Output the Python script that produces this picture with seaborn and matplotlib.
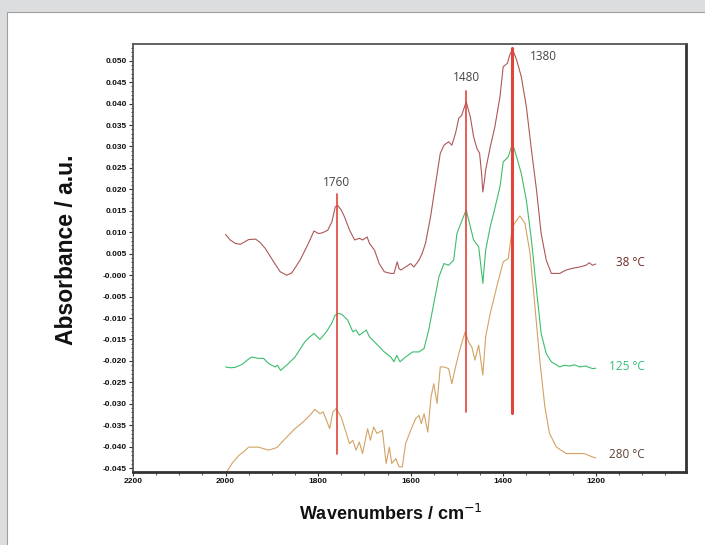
import matplotlib
matplotlib.use("Agg")
import matplotlib.pyplot as plt
from matplotlib.patches import Rectangle
from matplotlib.ticker import MultipleLocator, FixedLocator, FixedFormatter
import seaborn as sns
import numpy as np
import pandas as pd

# =====================================================
# DATA (absorbance values in units of 1e-3 a.u.)
# =====================================================
wn_38 = [2000, 1990, 1979, 1968, 1950, 1935, 1925, 1914, 1896, 1882, 1868, 1857,
         1839, 1821, 1809, 1799, 1790, 1779, 1770, 1763, 1758, 1750, 1743, 1732,
         1721, 1711, 1704, 1694, 1689, 1678, 1668, 1657, 1643, 1636, 1632, 1629,
         1625, 1621, 1611, 1600, 1593, 1582, 1575, 1568, 1557, 1546, 1536, 1528,
         1518, 1511, 1503, 1496, 1490, 1486, 1480, 1471, 1464, 1457, 1451, 1447,
         1444, 1440, 1438, 1428, 1418, 1407, 1400, 1391, 1386, 1380, 1371, 1361,
         1350, 1339, 1328, 1318, 1307, 1296, 1278, 1264, 1250, 1235, 1221, 1214,
         1207, 1200]
abs_38 = [9.5, 8.2, 7.4, 7.2, 8.3, 8.4, 7.6, 6.2, 3.1, 0.8, 0.0, 0.5,
          3.5, 7.4, 10.3, 9.7, 9.9, 10.5, 12.5, 15.9, 16.3, 15.2, 13.6, 10.5,
          8.2, 8.6, 8.2, 8.9, 7.4, 5.8, 2.7, 0.8, 0.4, 0.4, 2.0, 3.1,
          1.5, 1.2, 1.9, 2.7, 1.9, 3.5, 5.1, 7.4, 13.6, 21.4, 28.4, 30.3,
          31.1, 30.3, 33.1, 36.6, 37.2, 38.5, 40.4, 36.9, 32.3, 29.6, 28.4, 24.0,
          19.4, 22.5, 24.5, 29.9, 34.6, 41.6, 48.6, 49.4, 51.3, 52.7, 50.2, 46.3,
          39.3, 29.2, 19.8, 9.7, 3.5, 0.4, 0.4, 1.2, 1.6, 1.9, 2.3, 2.9,
          2.3, 2.6]

wn_125 = [2000, 1990, 1979, 1964, 1953, 1944, 1929, 1918, 1907, 1893, 1888, 1881,
          1868, 1850, 1829, 1818, 1809, 1796, 1782, 1771, 1763, 1755, 1748, 1736,
          1725, 1718, 1711, 1696, 1689, 1675, 1657, 1643, 1636, 1630, 1623, 1611,
          1596, 1582, 1571, 1561, 1550, 1539, 1528, 1518, 1507, 1500, 1489, 1480,
          1471, 1464, 1453, 1444, 1438, 1428, 1418, 1407, 1400, 1389, 1380, 1371,
          1361, 1350, 1339, 1328, 1318, 1307, 1296, 1278, 1268, 1257, 1246, 1235,
          1222, 1207, 1200]
abs_125 = [-21.4, -21.6, -21.5, -20.8, -19.8, -19.1, -19.4, -19.4, -20.6, -21.4, -21.0, -22.2,
           -21.0, -19.1, -15.6, -14.4, -13.6, -15.0, -13.2, -11.3, -9.3, -8.9, -9.2, -10.5,
           -13.2, -12.8, -14.0, -12.8, -14.4, -15.9, -17.9, -19.1, -20.2, -18.7, -20.2, -19.1,
           -17.9, -17.9, -17.1, -12.8, -6.6, -0.4, 2.7, 2.3, 3.5, 9.7, 12.8, 15.2,
           11.3, 8.2, 6.6, -1.9, 5.8, 11.3, 15.6, 20.6, 26.4, 27.6, 30.7, 27.6,
           23.7, 17.5, 8.2, -3.5, -13.6, -18.3, -20.2, -21.4, -21.0, -21.2, -20.9, -21.4,
           -21.2, -21.8, -21.7]

wn_280 = [2000, 1986, 1971, 1961, 1950, 1929, 1907, 1889, 1871, 1850, 1832, 1818,
          1807, 1796, 1789, 1782, 1775, 1768, 1761, 1750, 1739, 1732, 1725, 1718,
          1711, 1704, 1693, 1687, 1680, 1673, 1661, 1653, 1646, 1641, 1632, 1625,
          1618, 1611, 1600, 1589, 1582, 1577, 1571, 1563, 1556, 1550, 1543, 1536,
          1528, 1518, 1511, 1503, 1496, 1489, 1482, 1475, 1468, 1461, 1453, 1444,
          1438, 1428, 1414, 1400, 1389, 1380, 1371, 1364, 1353, 1342, 1332, 1321,
          1310, 1300, 1285, 1264, 1243, 1225, 1207, 1200]
abs_280 = [-46.3, -43.9, -42.0, -41.2, -40.1, -40.1, -40.8, -40.2, -38.1, -35.8, -34.2, -32.7,
           -31.3, -32.3, -31.9, -33.8, -35.8, -31.9, -31.1, -33.1, -36.9, -39.3, -38.5, -40.8,
           -38.9, -41.6, -35.8, -38.5, -35.4, -36.9, -36.2, -43.9, -40.1, -43.9, -42.8, -44.7,
           -44.7, -39.3, -36.2, -33.4, -32.7, -34.6, -32.3, -36.6, -28.4, -25.3, -29.9, -21.4,
           -21.4, -21.8, -25.3, -21.4, -18.3, -15.6, -13.2, -15.6, -16.7, -19.8, -16.3, -23.3,
           -14.4, -8.9, -2.7, 3.1, 3.9, 11.3, 12.8, 13.8, 12.1, 5.1, -6.6, -19.8,
           -30.7, -36.9, -40.1, -41.6, -41.6, -41.6, -42.4, -42.6]

temps = ["38 °C", "125 °C", "280 °C"]
line_colors = ["#ad5758", "#3dbd6c", "#d3a264"]
label_colors = ["#6e2a24", "#2fbf72", "#5b4433"]
label_pos = [(1157, 2.9), (1172, -21.4), (1172, -41.8)]

# marker lines: position, top, bottom (1e-3 a.u.)
peaks = [1760, 1480, 1380]
peak_top = [19.0, 43.0, 52.9]
peak_bottom = [-41.8, -31.9, -32.1]
peak_width = [1.2, 1.2, 2.2]
peak_label_pos = [(1760, 21.5), (1480, 46.2), (1343, 51.0)]
peak_label_ha = ["center", "center", "left"]

yticks = [0.050, 0.045, 0.040, 0.035, 0.030, 0.025, 0.020, 0.015, 0.010, 0.005,
          0.000, -0.005, -0.010, -0.015, -0.020, -0.025, -0.030, -0.035, -0.040, -0.045]
ytick_labels = ["0.050", "0.045", "0.040", "0.035", "0.030", "0.025", "0.020", "0.015",
                "0.010", "0.005", "-0.000", "-0.005", "-0.010", "-0.015", "-0.020",
                "-0.025", "-0.030", "-0.035", "-0.040", "-0.045"]
xticks = [2200, 2000, 1800, 1600, 1400, 1200]

frames = []
for t, w, a in zip(temps, [wn_38, wn_125, wn_280], [abs_38, abs_125, abs_280]):
    frames.append(pd.DataFrame({"wn": w, "absorbance": np.array(a) * 1e-3, "temp": t}))
df = pd.concat(frames, ignore_index=True)

# =====================================================
# STYLE
# =====================================================
sns.set_style("white")
plt.rcParams["font.family"] = ["Liberation Sans", "DejaVu Sans"]

fig = plt.figure(figsize=(7.05, 5.45), dpi=100)
fig.patch.set_facecolor("#dcdddf")
panel = Rectangle((7 / 705, -0.05), 1.05, 1 - 12 / 545 + 0.05,
                  transform=fig.transFigure, facecolor="white",
                  edgecolor="#a0a0a0", linewidth=0.8, zorder=-10)
fig.patches.append(panel)
ax = fig.add_axes([133 / 705, 1 - 472 / 545, 553 / 705, 428 / 545])
ax.set_zorder(1)
ax.set_facecolor("white")

sns.lineplot(data=df, x="wn", y="absorbance", hue="temp", palette=line_colors,
             hue_order=temps, estimator=None, sort=False, linewidth=0.8,
             legend=False, ax=ax)

for p, t, b, lw in zip(peaks, peak_top, peak_bottom, peak_width):
    ax.plot([p, p], [t * 1e-3, b * 1e-3], color="#e0443a", linewidth=lw, zorder=5)

for p, (lx, ly), ha in zip(peaks, peak_label_pos, peak_label_ha):
    ax.text(lx, ly * 1e-3, str(p), ha=ha, va="center", fontsize=8.5,
            color="#444444", family="Open Sans")

for t, c, (lx, ly) in zip(temps, label_colors, label_pos):
    ax.text(lx, ly * 1e-3, t, ha="left", va="center", fontsize=8.5,
            color=c, family="Open Sans")

ax.set_xlim(2200, 1005)
ax.set_ylim(-0.0459, 0.0539)
ax.xaxis.set_major_locator(FixedLocator(xticks))
ax.xaxis.set_major_formatter(FixedFormatter([str(v) for v in xticks]))
ax.xaxis.set_minor_locator(MultipleLocator(50))
ax.yaxis.set_major_locator(FixedLocator(yticks))
ax.yaxis.set_major_formatter(FixedFormatter(ytick_labels))
ax.yaxis.set_minor_locator(MultipleLocator(0.001))

ax.tick_params(axis="both", which="major", direction="out", length=3, width=0.8,
               labelsize=6, color="#333333", labelcolor="#111111", pad=1.5,
               bottom=True, left=True)
ax.tick_params(axis="both", which="minor", direction="out", length=1.8, width=0.6,
               color="#333333", bottom=True, left=True)
for lbl in ax.get_xticklabels() + ax.get_yticklabels():
    lbl.set_fontweight("bold")

for side in ["top", "left"]:
    ax.spines[side].set_color("#555555")
    ax.spines[side].set_linewidth(1.3)
for side in ["bottom", "right"]:
    ax.spines[side].set_color("#333333")
    ax.spines[side].set_linewidth(2.0)

ax.set_xlabel("Wavenumbers / cm$^{-1}$", fontsize=13, fontweight="bold", color="#111111")
ax.set_ylabel("Absorbance / a.u.", fontsize=16.5, fontweight="bold", color="#111111")
ax.xaxis.set_label_coords(0.467, -0.075)
ax.yaxis.set_label_coords(-0.1, 0.52)

fig.savefig("out.png", dpi=100, facecolor=fig.get_facecolor())
